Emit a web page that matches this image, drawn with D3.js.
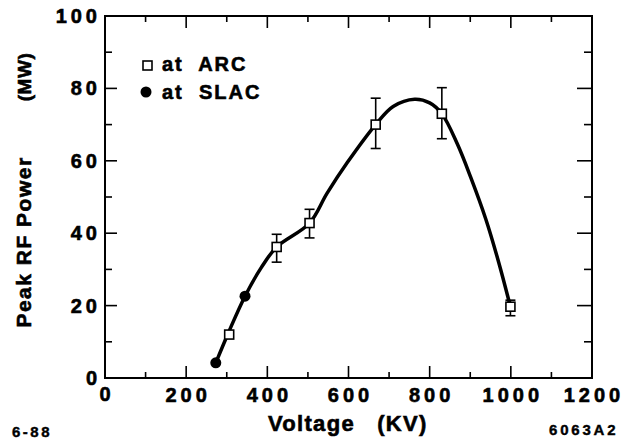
<!DOCTYPE html>
<html><head><meta charset="utf-8">
<script src="https://cdn.jsdelivr.net/npm/d3@7/dist/d3.min.js"></script>
<style>body{margin:0;background:#fff}svg{display:block}text{font-family:"Liberation Sans",Arial,Helvetica,sans-serif;font-weight:bold;fill:#000}</style>
</head><body><svg id="c" width="623" height="440"></svg>
<script>
// ARC measurements (voltage kV, power MW, error low, error high)
const arcV = [306, 423, 504, 667, 830, 999];
const arcP = [12, 36.2, 42.8, 70, 73, 19.7];
const arcLo = [null, 32, 38.7, 63.4, 66.1, 17.2];
const arcHi = [null, 39.7, 46.6, 77.3, 80.2, 21.5];
// SLAC measurements
const slacV = [273, 345];
const slacP = [4.2, 22.6];
// hand-drawn fit curve
const fitV = [273, 306, 345, 385, 423, 504, 547, 597, 667, 710, 763, 800, 830, 868, 901, 938, 970, 996];
const fitP = [4.2, 13, 22.6, 30.5, 36.2, 42.8, 51, 59.5, 70, 75, 77, 76, 73, 64.7, 55.5, 44, 32, 21];
const xTicks = [0, 200, 400, 600, 800, 1000, 1200];
const yTicks = [0, 20, 40, 60, 80, 100];

const svg = d3.select("#c");
const x = d3.scaleLinear().domain([0, 1200]).range([105, 592]);
const y = d3.scaleLinear().domain([0, 100]).range([378, 16]);

// frame
svg.append("rect").attr("x", x(0)).attr("y", y(100)).attr("width", x(1200)-x(0)).attr("height", y(0)-y(100))
  .attr("fill", "none").attr("stroke", "#000").attr("stroke-width", 2);

const minorX = d3.range(100, 1200, 100);
const minorY = d3.range(10, 100, 10);
const g = svg.append("g").attr("stroke", "#000").attr("stroke-width", 1.6);
minorX.forEach(v => {
  const L = v % 200 === 0 ? 12 : 6;
  g.append("line").attr("x1", x(v)).attr("x2", x(v)).attr("y1", y(0)).attr("y2", y(0)-L);
  g.append("line").attr("x1", x(v)).attr("x2", x(v)).attr("y1", y(100)).attr("y2", y(100)+L);
});
minorY.forEach(v => {
  const L = v % 20 === 0 ? 12 : 7;
  g.append("line").attr("x1", x(0)).attr("x2", x(0)+L).attr("y1", y(v)).attr("y2", y(v));
  g.append("line").attr("x1", x(1200)).attr("x2", x(1200)-(v % 20 === 0 ? 15 : 8)).attr("y1", y(v)).attr("y2", y(v));
});

const heavy = s => s.attr("stroke", "#000").attr("stroke-width", 0.6);

// tick labels
svg.append("g").selectAll("text").data(xTicks).join("text")
  .attr("x", d => x(d)).attr("y", d => d === 0 ? 401 : 402).attr("text-anchor", "middle")
  .attr("font-size", 20).attr("letter-spacing", 4).attr("dx", 2).text(d => d).call(heavy);
svg.append("g").selectAll("text").data(yTicks).join("text")
  .attr("x", 97).attr("y", d => y(d) + 7).attr("text-anchor", "end")
  .attr("font-size", 20).attr("letter-spacing", 4).attr("dx", 4).text(d => d).call(heavy);

// axis titles
svg.append("text").attr("x", 268).attr("y", 431)
  .attr("font-size", 22).attr("letter-spacing", 1.3).attr("xml:space", "preserve").text("Voltage   (KV)").call(heavy);
svg.append("text").attr("transform", "translate(31,242) rotate(-90)").attr("text-anchor", "middle")
  .attr("font-size", 21).attr("letter-spacing", 1.5).text("Peak RF Power").call(heavy);
svg.append("text").attr("transform", "translate(31,77) rotate(-90)").attr("text-anchor", "middle")
  .attr("font-size", 19).attr("letter-spacing", 0.5).text("(MW)").call(heavy);
svg.append("text").attr("x", 12).attr("y", 437).attr("font-size", 15).attr("font-weight", "normal").attr("letter-spacing", 2.5).text("6-88").call(s => s.attr("stroke", "#000").attr("stroke-width", 0.4));
svg.append("text").attr("x", 549).attr("y", 435).attr("font-size", 15).attr("font-weight", "normal").attr("letter-spacing", 2.8).text("6063A2").call(s => s.attr("stroke", "#000").attr("stroke-width", 0.4));

// fit curve
const line = d3.line().x((d, i) => x(fitV[i])).y((d, i) => y(fitP[i])).curve(d3.curveCatmullRom.alpha(0.5));
svg.append("path").attr("d", line(fitV)).attr("fill", "none").attr("stroke", "#000").attr("stroke-width", 3.5).attr("stroke-linecap", "round");

// error bars
const eb = svg.append("g").attr("stroke", "#000").attr("stroke-width", 1.6);
arcV.forEach((v, i) => {
  if (arcLo[i] == null) return;
  const cx = x(v);
  eb.append("line").attr("x1", cx).attr("x2", cx).attr("y1", y(arcLo[i])).attr("y2", y(arcHi[i]));
  [arcLo[i], arcHi[i]].forEach(e => eb.append("line").attr("x1", cx-5).attr("x2", cx+5).attr("y1", y(e)).attr("y2", y(e)));
});

// ARC squares
svg.append("g").selectAll("rect").data(arcV).join("rect")
  .attr("x", d => x(d) - 4.5).attr("y", (d, i) => y(arcP[i]) - 4.5).attr("width", 9).attr("height", 9)
  .attr("fill", "#fff").attr("stroke", "#000").attr("stroke-width", 1.6);
// SLAC circles
svg.append("g").selectAll("circle").data(slacV).join("circle")
  .attr("cx", d => x(d)).attr("cy", (d, i) => y(slacP[i])).attr("r", 5.5).attr("fill", "#000");

// legend
svg.append("rect").attr("x", 143).attr("y", 61).attr("width", 9).attr("height", 9).attr("fill", "#fff").attr("stroke", "#000").attr("stroke-width", 1.6);
svg.append("circle").attr("cx", 146).attr("cy", 92).attr("r", 5.5).attr("fill", "#000");
svg.append("text").attr("x", 162).attr("y", 71).attr("font-size", 20).attr("letter-spacing", 2).attr("xml:space", "preserve").text("at  ARC").call(heavy);
svg.append("text").attr("x", 162).attr("y", 99).attr("font-size", 20).attr("letter-spacing", 2).attr("xml:space", "preserve").text("at  SLAC").call(heavy);
</script></body></html>
